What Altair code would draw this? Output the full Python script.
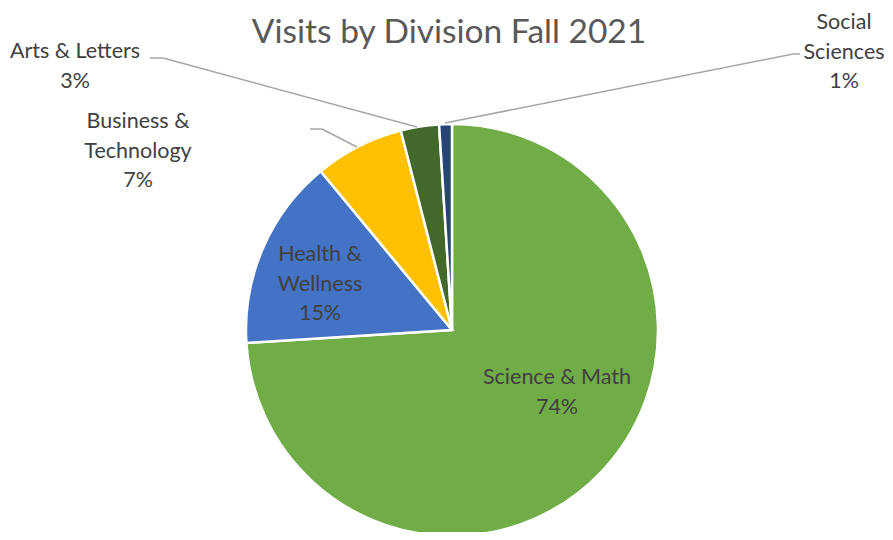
import altair as alt
import pandas as pd

# ---- data ----
categories = ["Science & Math", "Health & Wellness", "Business & Technology", "Arts & Letters", "Social Sciences"]
label_text = ["Science & Math", "Health &\nWellness", "Business &\nTechnology", "Arts & Letters", "Social\nSciences"]
values = [74, 15, 7, 3, 1]
colors = ["#70AD47", "#4472C4", "#FFC000", "#43682B", "#264478"]
title_text = "Visits by Division Fall 2021"

df = pd.DataFrame({
    "division": categories,
    "label": label_text,
    "value": values,
    "idx": list(range(len(categories))),
})

FONT = "Lato"
TXT = "#404040"
LEAD = "#A6A6A6"

CX, CY, R = 444, 272, 206

base = alt.Chart(df).transform_joinaggregate(
    total="sum(value)"
).transform_calculate(
    text="datum.label + '\\n' + format(datum.value / datum.total, '.0%')"
)

pie = alt.Chart(df).mark_arc(stroke="white", strokeWidth=2.5).encode(
    theta=alt.Theta("value:Q", stack=True),
    order=alt.Order("idx:Q", sort="ascending"),
    color=alt.Color("division:N", scale=alt.Scale(domain=categories, range=colors), legend=None),
    x=alt.value(CX),
    y=alt.value(CY),
    radius=alt.value(R),
)

# label placement (annotation layout, chart pixel coords of first line centre)
label_pos = {
    "Science & Math": (549, 320),
    "Health & Wellness": (312, 197),
    "Business & Technology": (130, 64),
    "Arts & Letters": (67, -6),
    "Social Sciences": (836, -35),
}

title = alt.Chart(alt.Data(values=[{"t": title_text}])).mark_text(
    font=FONT, fontSize=33.5, color="#595959", align="center", baseline="alphabetic",
).encode(text="t:N", x=alt.value(441), y=alt.value(-15))

layers = [pie, title]
for cat, (lx, ly) in label_pos.items():
    layers.append(
        base.transform_filter(alt.datum.division == cat).mark_text(
            font=FONT, fontSize=21.5, color=TXT, lineBreak="\n", lineHeight=29.5,
            align="center", baseline="middle",
        ).encode(text="text:N", x=alt.value(lx), y=alt.value(ly))
    )

leaders = [
    (142, 0, 155, 0), (155, 0, 409, 69),
    (302, 71, 314, 71), (314, 71, 349, 89),
    (437, 65, 785, -4), (785, -4, 792, -4),
]
for x1, y1, x2, y2 in leaders:
    layers.append(
        alt.Chart(alt.Data(values=[{}])).mark_rule(color=LEAD, strokeWidth=1.5).encode(
            x=alt.value(x1), y=alt.value(y1), x2=alt.value(x2), y2=alt.value(y2)
        )
    )

chart = alt.layer(*layers).properties(
    width=877,
    height=474,
    padding={"left": 0, "right": 0, "top": 50, "bottom": 0},
    autosize=alt.AutoSizeParams(type="none"),
).configure_view(stroke=None)

chart.save("out.html", embed_options={"renderer": "svg", "actions": False})
